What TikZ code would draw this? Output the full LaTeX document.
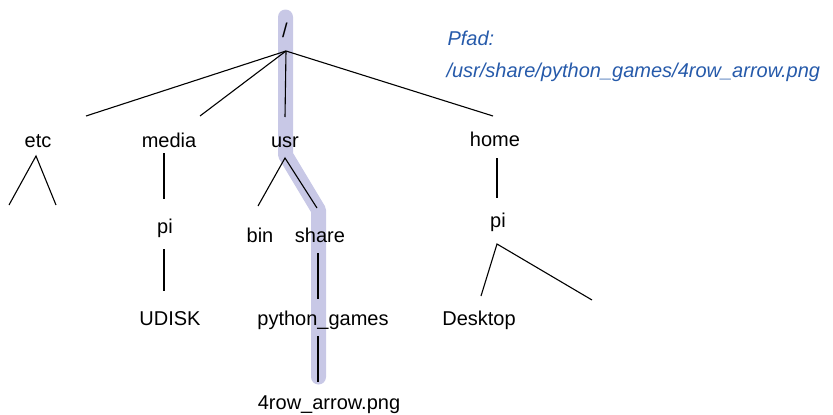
\documentclass[tikz,border=0pt]{standalone}
\usepackage{fontspec}
\setmainfont{Liberation Sans}
\definecolor{pathlilac}{RGB}{200,200,230}
\definecolor{pfadblue}{RGB}{38,90,170}

\begin{document}
\begin{tikzpicture}[x=1pt, y=-1pt, line width=1.1pt]
    \tikzstyle{every node}=[font=\fontsize{20}{24}\selectfont, text=black,
                            inner sep=0pt, anchor=base]
    \tikzstyle{pathmark}=[line width=15pt, color=pathlilac, line cap=round,
                          line join=round]
    \tikzstyle{pfad}=[text=pfadblue, font=\fontsize{20}{24}\selectfont\itshape,
                      anchor=base west]

    \useasboundingbox (0,0) rectangle (833,415);

    % highlighted path /usr/share/python_games
    \draw[pathmark] (285.5,17) -- (285.5,155) -- (318.5,210) -- (318.5,377);

    % directories
    \node (root)    at (285,37)  {/};
    \node (etc)     at (38,147)  {etc};
    \node (media)   at (169,147) {media};
    \node (usr)     at (285,147) {usr};
    \node (home)    at (495,146) {home};
    \node (mpi)     at (165,233) {pi};
    \node (udisk)   at (170,325) {UDISK};
    \node (bin)     at (260,242) {bin};
    \node (share)   at (320,242) {share};
    \node (pygames) at (323,325) {python\_games};
    \node (png)     at (329,409) {4row\_arrow.png};
    \node (hpi)     at (498,227) {pi};
    \node (desktop) at (479,325) {Desktop};

    \node[pfad] (pfad1) at (447,45) {Pfad:};
    \node[pfad] (pfad2) at (446,77) {/usr/share/python\_games/4row\_arrow.png};

    % connector ends
    \coordinate (rootj)   at (286,51);
    \coordinate (etc-in)  at (86,116);
    \coordinate (med-in)  at (200,116);
    \coordinate (usr-in)  at (285,117);
    \coordinate (home-in) at (493,116);
    \coordinate (etcj)    at (36,156);
    \coordinate (etc-l)   at (9,205);
    \coordinate (etc-r)   at (56,205);
    \coordinate (med-out) at (164,153);
    \coordinate (mpi-in)  at (164,199);
    \coordinate (mpi-out) at (164,249);
    \coordinate (udk-in)  at (164,291);
    \coordinate (usrj)    at (285,158);
    \coordinate (bin-in)  at (258,206);
    \coordinate (shr-in)  at (317,208);
    \coordinate (shr-out) at (318,253);
    \coordinate (pyg-in)  at (318,299);
    \coordinate (pyg-out) at (318,336);
    \coordinate (png-in)  at (318,382);
    \coordinate (hom-out) at (497,158);
    \coordinate (hpi-in)  at (497,198);
    \coordinate (hpij)    at (497,244);
    \coordinate (dsk-in)  at (481,296);
    \coordinate (hpi-r)   at (592,300);

    \draw (rootj) -- (etc-in);
    \draw (rootj) -- (med-in);
    \draw (rootj) -- (usr-in);
    \draw (rootj) -- (home-in);
    \draw (etc-l) -- (etcj) -- (etc-r);
    \draw (med-out) -- (mpi-in);
    \draw (mpi-out) -- (udk-in);
    \draw (bin-in) -- (usrj) -- (shr-in);
    \draw (shr-out) -- (pyg-in);
    \draw (pyg-out) -- (png-in);
    \draw (hom-out) -- (hpi-in);
    \draw (dsk-in) -- (hpij) -- (hpi-r);
\end{tikzpicture}
\end{document}
